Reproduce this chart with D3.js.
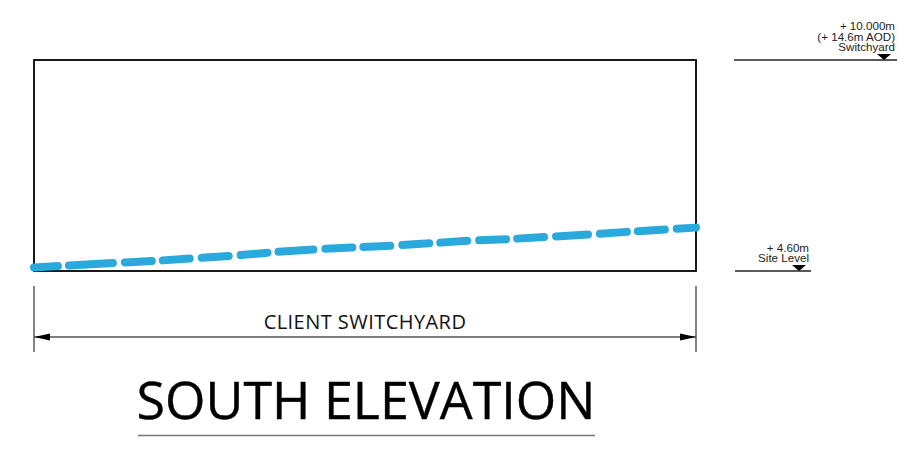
<!DOCTYPE html>
<html>
<head>
<meta charset="utf-8">
<script src="https://cdn.jsdelivr.net/npm/d3@7"></script>
<style>
    html, body { margin: 0; padding: 0; background: #fff; }
    svg { display: block; }
</style>
</head>
<body>
<svg></svg>
<script>
// Site profile, x is percent along the switchyard, level is metres
const profileX = [0, 3.9, 12.5, 18.4, 30.1, 36, 42.9, 54.5, 66.2, 72.1, 84.4, 90.3, 100];
const profileLevel = [4.69, 4.73, 4.81, 4.86, 4.99, 5.08, 5.16, 5.25, 5.38, 5.42, 5.54, 5.61, 5.71];

const titleText = "SOUTH ELEVATION";
const dimensionText = "CLIENT SWITCHYARD";
const upperLabels = ["+ 10.000m", "(+ 14.6m AOD)", "Switchyard"];
const lowerLabels = ["+ 4.60m", "Site Level"];
const levelRange = [4.6, 10];

// The dashes in the drawing are hand placed, not regular
const dashPattern = [24, 11, 44, 12, 27, 11, 27, 12, 27, 12, 27, 11, 35, 12, 27, 11, 27, 12, 27, 11, 27, 12, 27, 11, 27, 12, 32, 12, 27, 11, 27, 12, 26, 100];

const frameWidth = 924;
const frameHeight = 450;
const svg = d3.select("svg")
    .attr("width", frameWidth)
    .attr("height", frameHeight)
    .attr("viewBox", [0, 0, frameWidth, frameHeight]);

const x = d3.scaleLinear().domain([0, 100]).range([34, 696]);
const y = d3.scaleLinear().domain(levelRange).range([271, 60]);

// Elevation box
svg.append("rect")
    .attr("x", x(0))
    .attr("y", y(levelRange[1]))
    .attr("width", x(100) - x(0))
    .attr("height", y(levelRange[0]) - y(levelRange[1]))
    .attr("fill", "none")
    .attr("stroke", "#000")
    .attr("stroke-width", 1.8);

// Profile line
const line = d3.line()
    .x(function (d, i) { return x(profileX[i]); })
    .y(function (d) { return y(d); });

svg.append("path")
    .attr("d", line(profileLevel))
    .attr("fill", "none")
    .attr("stroke", "#29a9dc")
    .attr("stroke-width", 8)
    .attr("stroke-linecap", "round")
    .attr("stroke-dasharray", dashPattern.join(" "));

function levelMarker(level, x1, x2, triangleX, labels, labelX) {
    const ly = y(level);
    svg.append("line")
        .attr("x1", x1).attr("x2", x2)
        .attr("y1", ly).attr("y2", ly)
        .attr("stroke", "#222")
        .attr("stroke-width", 1.4);
    svg.append("path")
        .attr("d", d3.line()([[triangleX - 7, ly - 6], [triangleX + 7, ly - 6], [triangleX, ly]]) + "Z")
        .attr("fill", "#000");
    labels.forEach(function (label, i) {
        svg.append("text")
            .attr("x", labelX)
            .attr("y", ly - 9 - (labels.length - 1 - i) * 10.5)
            .attr("text-anchor", "end")
            .attr("font-family", "Liberation Sans")
            .attr("font-size", 11.6)
            .attr("fill", "#222")
            .text(label);
    });
}

levelMarker(levelRange[1], 734, 897, 884, upperLabels, 895);
levelMarker(levelRange[0], 735, 811, 799, lowerLabels, 809);

// Dimension line
const dimY = 337;
[0, 100].forEach(function (d) {
    svg.append("line")
        .attr("x1", x(d)).attr("x2", x(d))
        .attr("y1", 286).attr("y2", 352)
        .attr("stroke", "#333")
        .attr("stroke-width", 1.2);
});
svg.append("line")
    .attr("x1", x(0)).attr("x2", x(100))
    .attr("y1", dimY).attr("y2", dimY)
    .attr("stroke", "#555")
    .attr("stroke-width", 1.4);
svg.append("path")
    .attr("d", d3.line()([[x(0), dimY], [x(0) + 16, dimY - 3.5], [x(0) + 16, dimY + 3.5]]) + "Z")
    .attr("fill", "#000");
svg.append("path")
    .attr("d", d3.line()([[x(100), dimY], [x(100) - 16, dimY - 3.5], [x(100) - 16, dimY + 3.5]]) + "Z")
    .attr("fill", "#000");

svg.append("text")
    .attr("x", 365)
    .attr("y", 329)
    .attr("text-anchor", "middle")
    .attr("font-family", "Open Sans")
    .attr("font-size", 20)
    .attr("letter-spacing", 0.45)
    .attr("fill", "#111")
    .text(dimensionText);

// Title
svg.append("text")
    .attr("x", 366)
    .attr("y", 419)
    .attr("text-anchor", "middle")
    .attr("font-family", "Open Sans")
    .attr("font-size", 52)
    .attr("stroke", "#000")
    .attr("stroke-width", 0.4)
    .attr("fill", "#000")
    .text(titleText);

svg.append("line")
    .attr("x1", 138).attr("x2", 595)
    .attr("y1", 435.5).attr("y2", 435.5)
    .attr("stroke", "#777")
    .attr("stroke-width", 1.5);
</script>
</body>
</html>
